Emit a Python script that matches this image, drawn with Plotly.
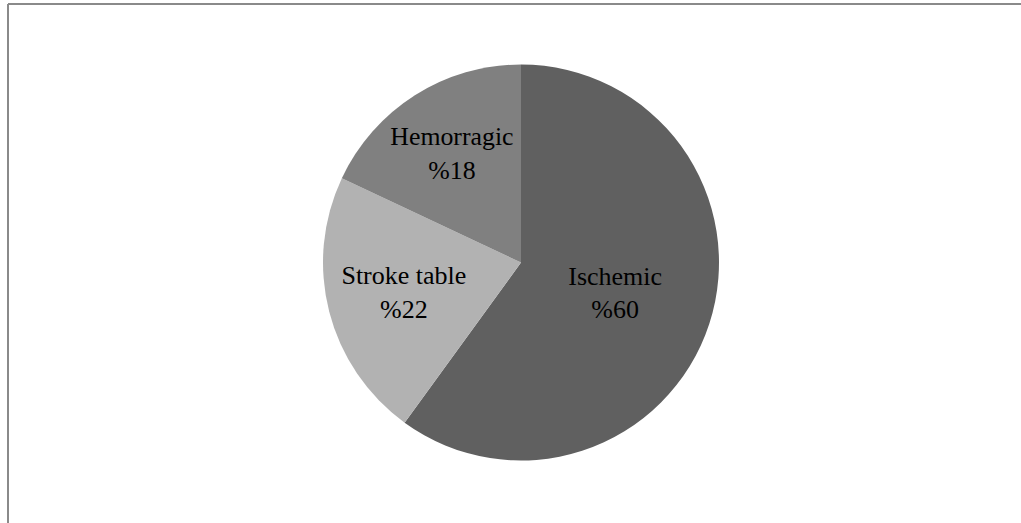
import plotly.graph_objects as go

# Stroke type distribution
categories = ["Ischemic", "Stroke table", "Hemorragic"]
values = [60, 22, 18]
slice_colors = ["#606060", "#b2b2b2", "#808080"]

W, H = 1021, 523
cx, cy, r = 521, 262.5, 198  # pie centre / radius in pixels (from top-left)

text = [f"%{v}" for v in values]

fig = go.Figure(
    go.Pie(
        labels=categories,
        values=values,
        text=text,
        texttemplate="%{label}<br>%{text}",
        textposition="inside",
        insidetextorientation="horizontal",
        sort=False,
        direction="clockwise",
        rotation=0,
        marker=dict(colors=slice_colors, line=dict(width=0)),
        textfont=dict(family="Liberation Serif", size=26, color="#000000"),
        hoverinfo="skip",
        showlegend=False,
        domain=dict(
            x=[(cx - r) / W, (cx + r) / W],
            y=[(H - cy - r) / H, (H - cy + r) / H],
        ),
    )
)

frame = dict(color="#8a8a8a", width=2)
fig.update_layout(
    width=W,
    height=H,
    margin=dict(l=0, r=0, t=0, b=0),
    paper_bgcolor="#ffffff",
    plot_bgcolor="#ffffff",
    shapes=[
        dict(type="line", xref="paper", yref="paper",
             x0=8 / W, x1=8 / W, y0=0, y1=(H - 4) / H, line=frame),
        dict(type="line", xref="paper", yref="paper",
             x0=8 / W, x1=1, y0=(H - 4) / H, y1=(H - 4) / H, line=frame),
    ],
)

fig.write_html("out.html")
